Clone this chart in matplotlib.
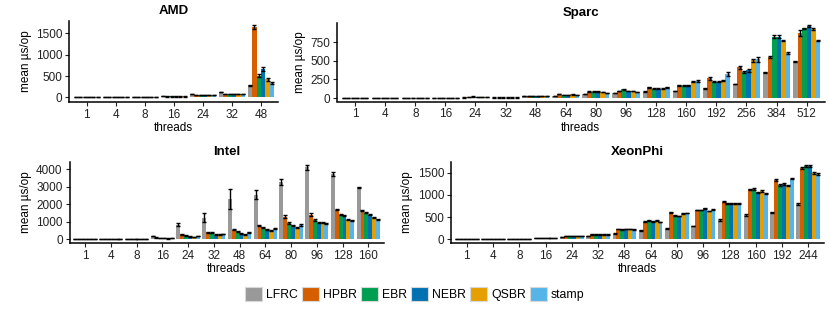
import matplotlib
matplotlib.use("Agg")
import matplotlib.pyplot as plt
from matplotlib.patches import Patch
import numpy as np

plt.rcParams['font.family'] = ['Liberation Sans', 'DejaVu Sans']
plt.rcParams['font.size'] = 8.5

schemes = ["LFRC", "HPBR", "EBR", "NEBR", "QSBR", "stamp"]
colors = ["#999999", "#D55E00", "#009E50", "#0072B2", "#E69F00", "#56B4E9"]

# AMD
amd_threads = ["1", "4", "8", "16", "24", "32", "48"]
amd_vals = {
    "LFRC":  [5, 5, 8, 35, 77, 124, 281],
    "HPBR":  [4, 4, 6, 23, 55, 77, 1650],
    "EBR":   [4, 4, 6, 23, 55, 77, 510],
    "NEBR":  [4, 4, 6, 23, 55, 77, 660],
    "QSBR":  [4, 4, 6, 23, 55, 77, 425],
    "stamp": [4, 4, 6, 23, 55, 77, 330],
}
amd_err = {
    "LFRC":  [1, 1, 1, 2, 4, 6, 10],
    "HPBR":  [1, 1, 1, 2, 3, 4, 50],
    "EBR":   [1, 1, 1, 2, 3, 4, 40],
    "NEBR":  [1, 1, 1, 2, 3, 4, 50],
    "QSBR":  [1, 1, 1, 2, 3, 4, 30],
    "stamp": [1, 1, 1, 2, 3, 4, 25],
}

# Sparc
sparc_threads = ["1", "4", "8", "16", "24", "32", "48", "64", "80", "96",
                 "128", "160", "192", "256", "384", "512"]
sparc_vals = {
    "LFRC":  [3, 3, 3, 5, 8, 8, 25, 31, 58, 71, 85, 98, 130, 188, 348, 496],
    "HPBR":  [3, 3, 3, 5, 15, 8, 28, 54, 85, 94, 143, 174, 264, 411, 553, 870],
    "EBR":   [3, 3, 3, 5, 20, 8, 28, 45, 85, 116, 125, 165, 219, 352, 822, 933],
    "NEBR":  [3, 3, 3, 5, 15, 8, 28, 45, 89, 98, 125, 174, 219, 371, 822, 965],
    "QSBR":  [3, 3, 3, 5, 15, 8, 28, 49, 80, 98, 125, 219, 232, 509, 768, 925],
    "stamp": [3, 3, 3, 5, 15, 8, 25, 45, 71, 80, 143, 225, 322, 518, 607, 768],
}
sparc_err = {
    "LFRC":  [1, 1, 1, 1, 1, 1, 2, 2, 3, 3, 4, 4, 5, 5, 6, 6],
    "HPBR":  [1, 1, 1, 1, 2, 1, 2, 3, 4, 4, 5, 6, 25, 15, 15, 40],
    "EBR":   [1, 1, 1, 1, 2, 1, 2, 3, 4, 5, 5, 5, 6, 10, 20, 8],
    "NEBR":  [1, 1, 1, 1, 2, 1, 2, 3, 4, 4, 5, 5, 6, 15, 20, 8],
    "QSBR":  [1, 1, 1, 1, 2, 1, 2, 3, 4, 4, 5, 6, 6, 20, 10, 8],
    "stamp": [1, 1, 1, 1, 2, 1, 2, 3, 4, 4, 6, 15, 30, 35, 12, 8],
}

# Intel
intel_threads = ["1", "4", "8", "16", "24", "32", "48", "64", "80", "96",
                 "128", "160"]
intel_vals = {
    "LFRC":  [15, 15, 15, 200, 830, 1250, 2300, 2540, 3290, 4100, 3710, 2970],
    "HPBR":  [12, 12, 12, 110, 300, 400, 550, 795, 1300, 1400, 1700, 1630],
    "EBR":   [12, 12, 12, 80, 230, 380, 455, 700, 930, 1100, 1400, 1515],
    "NEBR":  [12, 12, 12, 70, 170, 265, 360, 570, 815, 965, 1380, 1400],
    "QSBR":  [12, 12, 12, 60, 150, 265, 305, 490, 680, 965, 1120, 1270],
    "stamp": [12, 12, 12, 90, 210, 305, 415, 625, 815, 910, 1060, 1155],
}
intel_err = {
    "LFRC":  [2, 2, 2, 20, 90, 270, 550, 250, 180, 130, 110, 20],
    "HPBR":  [2, 2, 2, 10, 20, 25, 30, 40, 70, 80, 40, 25],
    "EBR":   [2, 2, 2, 8, 15, 20, 25, 30, 40, 40, 30, 25],
    "NEBR":  [2, 2, 2, 8, 15, 20, 25, 30, 30, 30, 30, 25],
    "QSBR":  [2, 2, 2, 8, 15, 20, 25, 30, 30, 30, 30, 25],
    "stamp": [2, 2, 2, 8, 15, 20, 25, 30, 40, 30, 30, 25],
}

# XeonPhi
xeon_threads = ["1", "4", "8", "16", "24", "32", "48", "64", "80", "96",
                "128", "160", "192", "244"]
xeon_vals = {
    "LFRC":  [5, 8, 12, 30, 52, 75, 127, 202, 240, 300, 435, 547, 607, 795],
    "HPBR":  [5, 8, 12, 35, 67, 112, 232, 397, 607, 660, 847, 1125, 1335, 1597],
    "EBR":   [5, 8, 12, 35, 67, 112, 225, 427, 540, 660, 810, 1132, 1222, 1657],
    "NEBR":  [5, 8, 12, 35, 67, 112, 232, 405, 525, 697, 810, 1057, 1245, 1657],
    "QSBR":  [5, 8, 12, 35, 67, 112, 232, 427, 577, 637, 810, 1087, 1207, 1485],
    "stamp": [5, 8, 12, 35, 67, 112, 225, 390, 592, 667, 810, 1020, 1365, 1477],
}
xeon_err = {s: [2, 2, 2, 3, 3, 4, 6, 8, 10, 10, 12, 12, 15, 20] for s in schemes}

W, H = 830, 312
fig = plt.figure(figsize=(W / 100, H / 100), dpi=100)


def px_axes(x0, y0, x1, y1):
    # pixel box (top-left origin) -> figure fraction
    return fig.add_axes([x0 / W, 1 - y1 / H, (x1 - x0) / W, (y1 - y0) / H])


def panel(ax, title, threads, vals, errs, ylim, yticks):
    n = len(threads)
    x = np.arange(n)
    bw = 0.9 / len(schemes)
    for i, s in enumerate(schemes):
        pos = x - 0.45 + bw * (i + 0.5)
        ax.bar(pos, vals[s], width=bw, color=colors[i], linewidth=0, zorder=2)
        ax.errorbar(pos, vals[s], yerr=errs[s], fmt="none", ecolor="black",
                    elinewidth=1.0, capsize=1.6, capthick=1.0, zorder=3)
    ax.set_xlim(-0.6, n - 0.4)
    ax.set_ylim(*ylim)
    ax.set_xticks(x)
    ax.set_xticklabels(threads)
    ax.set_yticks(yticks)
    ax.set_title(title, fontweight="bold", fontsize=9.5, pad=5)
    ax.set_xlabel("threads", labelpad=1)
    ax.set_ylabel("mean µs/op", labelpad=3)
    for sp in ["top", "right"]:
        ax.spines[sp].set_visible(False)
    for sp in ["left", "bottom"]:
        ax.spines[sp].set_linewidth(1.1)
    ax.tick_params(length=3, width=0.8, pad=2, labelsize=8.5, colors="#222222")


ax1 = px_axes(69.3, 20.7, 278.4, 101.7)
panel(ax1, "AMD", amd_threads, amd_vals, amd_err, (-100, 1795), [0, 500, 1000, 1500])
ax2 = px_axes(337, 23, 824.7, 101.5)
panel(ax2, "Sparc", sparc_threads, sparc_vals, sparc_err, (-45, 1005), [0, 250, 500, 750])
ax3 = px_axes(69.6, 162, 383.7, 243)
panel(ax3, "Intel", intel_threads, intel_vals, intel_err, (-200, 4410), [0, 1000, 2000, 3000, 4000])
ax4 = px_axes(451, 162, 824, 243)
panel(ax4, "XeonPhi", xeon_threads, xeon_vals, xeon_err, (-83, 1739), [0, 500, 1000, 1500])

handles = [Patch(facecolor=c, edgecolor="#d9d9d9", linewidth=0.8, label=s)
           for s, c in zip(schemes, colors)]
fig.legend(handles=handles, loc="center", bbox_to_anchor=(0.5, 1 - 294 / H),
           ncol=6, frameon=False, handlelength=1.35, handleheight=1.35,
           handletextpad=0.35, columnspacing=0.35, fontsize=8.8, borderaxespad=0)

fig.savefig("out.png", dpi=100)
